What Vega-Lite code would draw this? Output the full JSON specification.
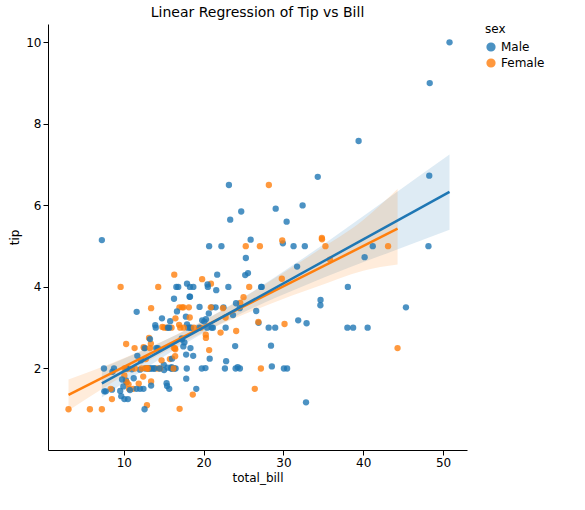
{"$schema":"https://vega.github.io/schema/vega-lite/v6.json","width":419,"height":426,"padding":{"left":8,"top":6,"right":5,"bottom":5},"title":{"text":"Linear Regression of Tip vs Bill","fontWeight":"normal","fontSize":14,"font":"DejaVu Sans"},"config":{"font":"DejaVu Sans","view":{"stroke":null},"axis":{"grid":false,"labelFontSize":12,"titleFontSize":12,"titleFontWeight":"normal","domainColor":"#000","tickColor":"#000","labelColor":"#000","titleColor":"#000"},"legend":{"labelFontSize":12,"titleFontSize":12,"titleFontWeight":"normal","orient":"right","symbolSize":60,"symbolOpacity":0.8}},
"datasets":{"tips":[
{"b":16.99,"t":1.01,"s":"Female"},{"b":10.34,"t":1.66,"s":"Male"},{"b":21.01,"t":3.5,"s":"Male"},{"b":23.68,"t":3.31,"s":"Male"},{"b":24.59,"t":3.61,"s":"Female"},{"b":25.29,"t":4.71,"s":"Male"},{"b":8.77,"t":2.0,"s":"Male"},{"b":26.88,"t":3.12,"s":"Male"},{"b":15.04,"t":1.96,"s":"Male"},{"b":14.78,"t":3.23,"s":"Male"},{"b":10.27,"t":1.71,"s":"Male"},{"b":35.26,"t":5.0,"s":"Female"},{"b":15.42,"t":1.57,"s":"Male"},{"b":18.43,"t":3.0,"s":"Male"},{"b":14.83,"t":3.02,"s":"Female"},{"b":21.58,"t":3.92,"s":"Male"},{"b":10.33,"t":1.67,"s":"Female"},{"b":16.29,"t":3.71,"s":"Male"},{"b":16.97,"t":3.5,"s":"Female"},{"b":20.65,"t":3.35,"s":"Male"},{"b":17.92,"t":4.08,"s":"Male"},{"b":20.29,"t":2.75,"s":"Female"},{"b":15.77,"t":2.23,"s":"Female"},{"b":39.42,"t":7.58,"s":"Male"},{"b":19.82,"t":3.18,"s":"Male"},{"b":17.81,"t":2.34,"s":"Male"},{"b":13.37,"t":2.0,"s":"Male"},{"b":12.69,"t":2.0,"s":"Male"},{"b":21.7,"t":4.3,"s":"Male"},{"b":19.65,"t":3.0,"s":"Female"},{"b":9.55,"t":1.45,"s":"Male"},{"b":18.35,"t":2.5,"s":"Male"},{"b":15.06,"t":3.0,"s":"Female"},{"b":20.69,"t":2.45,"s":"Female"},{"b":17.78,"t":3.27,"s":"Male"},{"b":24.06,"t":3.6,"s":"Male"},{"b":16.31,"t":2.0,"s":"Male"},{"b":16.93,"t":3.07,"s":"Female"},{"b":18.69,"t":2.31,"s":"Male"},{"b":31.27,"t":5.0,"s":"Male"},{"b":16.04,"t":2.24,"s":"Male"},{"b":17.46,"t":2.54,"s":"Male"},{"b":13.94,"t":3.06,"s":"Male"},{"b":9.68,"t":1.32,"s":"Male"},{"b":30.4,"t":5.6,"s":"Male"},{"b":18.29,"t":3.0,"s":"Male"},{"b":22.23,"t":5.0,"s":"Male"},{"b":32.4,"t":6.0,"s":"Male"},{"b":28.55,"t":2.05,"s":"Male"},{"b":18.04,"t":3.0,"s":"Male"},{"b":12.54,"t":2.5,"s":"Male"},{"b":10.29,"t":2.6,"s":"Female"},{"b":34.81,"t":5.2,"s":"Female"},{"b":9.94,"t":1.56,"s":"Male"},{"b":25.56,"t":4.34,"s":"Male"},{"b":19.49,"t":3.51,"s":"Male"},{"b":38.01,"t":3.0,"s":"Male"},{"b":26.41,"t":1.5,"s":"Female"},{"b":11.24,"t":1.76,"s":"Male"},{"b":48.27,"t":6.73,"s":"Male"},{"b":20.29,"t":3.21,"s":"Male"},{"b":13.81,"t":2.0,"s":"Male"},{"b":11.02,"t":1.98,"s":"Male"},{"b":18.29,"t":3.76,"s":"Male"},{"b":17.59,"t":2.64,"s":"Male"},{"b":20.08,"t":3.15,"s":"Male"},{"b":16.45,"t":2.47,"s":"Female"},{"b":3.07,"t":1.0,"s":"Female"},{"b":20.23,"t":2.01,"s":"Male"},{"b":15.01,"t":2.09,"s":"Male"},{"b":12.02,"t":1.97,"s":"Male"},{"b":17.07,"t":3.0,"s":"Female"},{"b":26.86,"t":3.14,"s":"Female"},{"b":25.28,"t":5.0,"s":"Female"},{"b":14.73,"t":2.2,"s":"Female"},{"b":10.51,"t":1.25,"s":"Male"},{"b":17.92,"t":3.08,"s":"Male"},{"b":27.2,"t":4.0,"s":"Male"},{"b":22.76,"t":3.0,"s":"Male"},{"b":17.29,"t":2.71,"s":"Male"},{"b":19.44,"t":3.0,"s":"Male"},{"b":16.66,"t":3.4,"s":"Male"},{"b":10.07,"t":1.83,"s":"Female"},{"b":32.68,"t":5.0,"s":"Male"},{"b":15.98,"t":2.03,"s":"Male"},{"b":34.83,"t":5.17,"s":"Female"},{"b":13.03,"t":2.0,"s":"Male"},{"b":18.28,"t":4.0,"s":"Male"},{"b":24.71,"t":5.85,"s":"Male"},{"b":21.16,"t":3.0,"s":"Male"},{"b":28.97,"t":3.0,"s":"Male"},{"b":22.49,"t":3.5,"s":"Male"},{"b":5.75,"t":1.0,"s":"Female"},{"b":16.32,"t":4.3,"s":"Female"},{"b":22.75,"t":3.25,"s":"Female"},{"b":40.17,"t":4.73,"s":"Male"},{"b":27.28,"t":4.0,"s":"Male"},{"b":12.03,"t":1.5,"s":"Male"},{"b":21.01,"t":3.0,"s":"Male"},{"b":12.46,"t":1.5,"s":"Male"},{"b":11.35,"t":2.5,"s":"Female"},{"b":15.38,"t":3.0,"s":"Female"},{"b":44.3,"t":2.5,"s":"Female"},{"b":22.42,"t":3.48,"s":"Female"},{"b":20.92,"t":4.08,"s":"Female"},{"b":15.36,"t":1.64,"s":"Male"},{"b":20.49,"t":4.06,"s":"Male"},{"b":25.21,"t":4.29,"s":"Male"},{"b":18.24,"t":3.76,"s":"Male"},{"b":14.31,"t":4.0,"s":"Female"},{"b":14.0,"t":3.0,"s":"Male"},{"b":7.25,"t":1.0,"s":"Female"},{"b":38.07,"t":4.0,"s":"Male"},{"b":23.95,"t":2.55,"s":"Male"},{"b":25.71,"t":4.0,"s":"Female"},{"b":17.31,"t":3.5,"s":"Female"},{"b":29.93,"t":5.07,"s":"Male"},{"b":10.65,"t":1.5,"s":"Female"},{"b":12.43,"t":1.8,"s":"Female"},{"b":24.08,"t":2.92,"s":"Female"},{"b":11.69,"t":2.31,"s":"Male"},{"b":13.42,"t":1.68,"s":"Female"},{"b":14.26,"t":2.5,"s":"Male"},{"b":15.95,"t":2.0,"s":"Male"},{"b":12.48,"t":2.52,"s":"Female"},{"b":29.8,"t":4.2,"s":"Female"},{"b":8.52,"t":1.48,"s":"Male"},{"b":14.52,"t":2.0,"s":"Female"},{"b":11.38,"t":2.0,"s":"Female"},{"b":22.82,"t":2.18,"s":"Male"},{"b":19.08,"t":1.5,"s":"Male"},{"b":20.27,"t":2.83,"s":"Female"},{"b":11.17,"t":1.5,"s":"Female"},{"b":12.26,"t":2.0,"s":"Female"},{"b":18.26,"t":3.25,"s":"Female"},{"b":8.51,"t":1.25,"s":"Female"},{"b":10.33,"t":2.0,"s":"Female"},{"b":14.15,"t":2.0,"s":"Female"},{"b":16.0,"t":2.0,"s":"Male"},{"b":13.16,"t":2.75,"s":"Female"},{"b":17.47,"t":3.5,"s":"Female"},{"b":34.3,"t":6.7,"s":"Male"},{"b":41.19,"t":5.0,"s":"Male"},{"b":27.05,"t":5.0,"s":"Female"},{"b":16.43,"t":2.3,"s":"Female"},{"b":8.35,"t":1.5,"s":"Female"},{"b":18.64,"t":1.36,"s":"Female"},{"b":11.87,"t":1.63,"s":"Female"},{"b":9.78,"t":1.73,"s":"Male"},{"b":7.51,"t":2.0,"s":"Male"},{"b":14.07,"t":2.5,"s":"Male"},{"b":13.13,"t":2.0,"s":"Male"},{"b":17.26,"t":2.74,"s":"Male"},{"b":24.55,"t":2.0,"s":"Male"},{"b":19.77,"t":2.0,"s":"Male"},{"b":29.85,"t":5.14,"s":"Female"},{"b":48.17,"t":5.0,"s":"Male"},{"b":25.0,"t":3.75,"s":"Female"},{"b":13.39,"t":2.61,"s":"Female"},{"b":16.49,"t":2.0,"s":"Male"},{"b":21.5,"t":3.5,"s":"Male"},{"b":12.66,"t":2.5,"s":"Male"},{"b":16.21,"t":2.0,"s":"Female"},{"b":13.81,"t":2.0,"s":"Male"},{"b":17.51,"t":3.0,"s":"Female"},{"b":24.52,"t":3.48,"s":"Male"},{"b":20.76,"t":2.24,"s":"Male"},{"b":31.71,"t":4.5,"s":"Male"},{"b":10.59,"t":1.61,"s":"Female"},{"b":10.63,"t":2.0,"s":"Female"},{"b":50.81,"t":10.0,"s":"Male"},{"b":15.81,"t":3.16,"s":"Male"},{"b":7.25,"t":5.15,"s":"Male"},{"b":31.85,"t":3.18,"s":"Male"},{"b":16.82,"t":4.0,"s":"Male"},{"b":32.9,"t":3.11,"s":"Male"},{"b":17.89,"t":2.0,"s":"Male"},{"b":14.48,"t":2.0,"s":"Male"},{"b":9.6,"t":4.0,"s":"Female"},{"b":34.63,"t":3.55,"s":"Male"},{"b":34.65,"t":3.68,"s":"Male"},{"b":23.33,"t":5.65,"s":"Male"},{"b":45.35,"t":3.5,"s":"Male"},{"b":23.17,"t":6.5,"s":"Male"},{"b":40.55,"t":3.0,"s":"Male"},{"b":20.69,"t":5.0,"s":"Male"},{"b":20.9,"t":3.5,"s":"Female"},{"b":30.46,"t":2.0,"s":"Male"},{"b":18.15,"t":3.5,"s":"Female"},{"b":23.1,"t":4.0,"s":"Male"},{"b":15.69,"t":1.5,"s":"Male"},{"b":19.81,"t":4.19,"s":"Female"},{"b":28.44,"t":2.56,"s":"Male"},{"b":15.48,"t":2.02,"s":"Male"},{"b":16.58,"t":4.0,"s":"Male"},{"b":7.56,"t":1.44,"s":"Male"},{"b":10.34,"t":2.0,"s":"Male"},{"b":43.11,"t":5.0,"s":"Female"},{"b":13.0,"t":2.0,"s":"Female"},{"b":13.51,"t":2.0,"s":"Male"},{"b":18.71,"t":4.0,"s":"Male"},{"b":12.74,"t":2.01,"s":"Female"},{"b":13.0,"t":2.0,"s":"Female"},{"b":16.4,"t":2.5,"s":"Female"},{"b":20.53,"t":4.0,"s":"Male"},{"b":16.47,"t":3.23,"s":"Female"},{"b":26.59,"t":3.41,"s":"Male"},{"b":38.73,"t":3.0,"s":"Male"},{"b":24.27,"t":2.03,"s":"Male"},{"b":12.76,"t":2.23,"s":"Female"},{"b":30.06,"t":2.0,"s":"Male"},{"b":25.89,"t":5.16,"s":"Male"},{"b":48.33,"t":9.0,"s":"Male"},{"b":13.27,"t":2.5,"s":"Female"},{"b":28.17,"t":6.5,"s":"Female"},{"b":12.9,"t":1.1,"s":"Female"},{"b":28.15,"t":3.0,"s":"Male"},{"b":11.59,"t":1.5,"s":"Male"},{"b":7.74,"t":1.44,"s":"Male"},{"b":30.14,"t":3.09,"s":"Female"},{"b":12.16,"t":2.2,"s":"Male"},{"b":13.42,"t":3.48,"s":"Female"},{"b":8.58,"t":1.92,"s":"Male"},{"b":15.98,"t":3.0,"s":"Female"},{"b":13.42,"t":1.58,"s":"Male"},{"b":16.27,"t":2.5,"s":"Female"},{"b":10.09,"t":2.0,"s":"Female"},{"b":20.45,"t":3.0,"s":"Male"},{"b":13.28,"t":2.72,"s":"Male"},{"b":22.12,"t":2.88,"s":"Female"},{"b":24.01,"t":2.0,"s":"Male"},{"b":15.69,"t":3.0,"s":"Male"},{"b":11.61,"t":3.39,"s":"Male"},{"b":10.77,"t":1.47,"s":"Male"},{"b":15.53,"t":3.0,"s":"Male"},{"b":10.07,"t":1.25,"s":"Male"},{"b":12.6,"t":1.0,"s":"Male"},{"b":32.83,"t":1.17,"s":"Male"},{"b":35.83,"t":4.67,"s":"Female"},{"b":29.03,"t":5.92,"s":"Male"},{"b":27.18,"t":2.0,"s":"Female"},{"b":22.67,"t":2.0,"s":"Male"},{"b":17.82,"t":1.75,"s":"Male"},{"b":18.78,"t":3.0,"s":"Female"}],
"band":[
{"b":7.25,"lo":1.29,"hi":2.01,"s":"Male"},{"b":12,"lo":1.91,"hi":2.41,"s":"Male"},{"b":17,"lo":2.53,"hi":2.87,"s":"Male"},{"b":21,"lo":2.98,"hi":3.28,"s":"Male"},{"b":26,"lo":3.47,"hi":3.87,"s":"Male"},{"b":32,"lo":3.98,"hi":4.64,"s":"Male"},{"b":38,"lo":4.46,"hi":5.46,"s":"Male"},{"b":44,"lo":4.9,"hi":6.3,"s":"Male"},{"b":50.81,"lo":5.4,"hi":7.25,"s":"Male"},
{"b":3.07,"lo":0.97,"hi":1.73,"s":"Female"},{"b":8,"lo":1.59,"hi":2.09,"s":"Female"},{"b":13,"lo":2.18,"hi":2.5,"s":"Female"},{"b":18,"lo":2.7,"hi":2.96,"s":"Female"},{"b":23,"lo":3.16,"hi":3.5,"s":"Female"},{"b":28,"lo":3.56,"hi":4.1,"s":"Female"},{"b":34,"lo":3.99,"hi":4.85,"s":"Female"},{"b":40,"lo":4.4,"hi":5.64,"s":"Female"},{"b":44.3,"lo":4.55,"hi":6.4,"s":"Female"}]},
"layer":[
{"data":{"name":"band"},"mark":{"type":"area","opacity":0.15,"interpolate":"monotone"},"encoding":{"x":{"field":"b","type":"quantitative"},"y":{"field":"lo","type":"quantitative"},"y2":{"field":"hi"},"color":{"field":"s","type":"nominal"}}},
{"data":{"name":"tips"},"mark":{"type":"circle","size":40,"opacity":0.8},"encoding":{"x":{"field":"b","type":"quantitative","title":"total_bill","scale":{"domain":[0.5,53],"nice":false},"axis":{"values":[10,20,30,40,50]}},"y":{"field":"t","type":"quantitative","title":"tip","scale":{"domain":[0.55,10.45],"nice":false},"axis":{"values":[2,4,6,8,10]}},"color":{"field":"s","type":"nominal","title":"sex","scale":{"domain":["Male","Female"],"range":["#1f77b4","#ff7f0e"]},"legend":{"symbolType":"circle","symbolOpacity":0.8}}}},
{"data":{"name":"tips"},"transform":[{"regression":"t","on":"b","groupby":["s"]}],"mark":{"type":"line","strokeWidth":2.5},"encoding":{"x":{"field":"b","type":"quantitative"},"y":{"field":"t","type":"quantitative"},"color":{"field":"s","type":"nominal"}}}
]}
